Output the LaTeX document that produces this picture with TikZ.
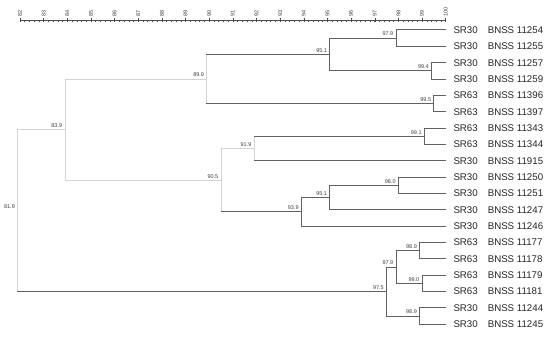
\documentclass[tikz,border=0pt]{standalone}
\usepackage{fontspec}
\setmainfont{Liberation Sans}
\newcommand\joinnode[8]{%
  \coordinate (#1) at ({20+(#2-82)*23.65},#3);
  \draw[#6] (#1 |- #4) -- (#1 |- #5);
  \draw[#7] (#1 |- #4) -- (#4);
  \draw[#8] (#1 |- #5) -- (#5);
  \node[lbl] (#1-v) at ([xshift=-2.6pt,yshift=2.2pt]#1) {#2};
}
\begin{document}
\begin{tikzpicture}[x=1pt,y=-1pt,
  dk/.style={draw=black!62, line width=1pt, line cap=rect},
  lt/.style={draw=black!17, line width=0.8pt, line cap=rect},
  lbl/.style={font=\fontsize{5.5}{6}\selectfont, text=black!75, inner sep=0pt, anchor=base east},
  leaftxt/.style={font=\fontsize{9.7}{11}\selectfont, text=black!85, inner sep=0pt, anchor=west},
  tickline/.style={draw=black!70, line width=0.5pt},
  ticklbl/.style={font=\fontsize{5.5}{6}\selectfont, text=black!75, inner sep=0pt, rotate=90, anchor=west}]
\useasboundingbox (0,0) rectangle (550,337);
\fill[white] (0,0) rectangle (550,337);
% axis
\coordinate (ax0) at (20,20.7);
\coordinate (ax1) at (445.7,20.7);
\draw[tickline] (ax0) -- (ax1);
\foreach \k in {0,...,90}{
  \draw[tickline] ({20+\k*0.2*23.65},20.7) -- ({20+\k*0.2*23.65},22.2);
}
\foreach \v in {82,...,100}{
  \draw[tickline] ({20+(\v-82)*23.65},17.6) -- ({20+(\v-82)*23.65},21.6);
  \node[ticklbl] (ax\v) at ({20+(\v-82)*23.65},16.9) {\v};
}
% leaves
\foreach \i/\g/\n in {1/SR30/11254, 2/SR30/11255, 3/SR30/11257, 4/SR30/11259,
  5/SR63/11396, 6/SR63/11397, 7/SR63/11343, 8/SR63/11344, 9/SR30/11915,
  10/SR30/11250, 11/SR30/11251, 12/SR30/11247, 13/SR30/11246,
  14/SR63/11177, 15/SR63/11178, 16/SR63/11179, 17/SR63/11181,
  18/SR30/11244, 19/SR30/11245}{
  \coordinate (l\i) at (445.7,{30+16.35*(\i-1)});
  \node[leaftxt] (g\i) at (453.3,{30+16.35*(\i-1)}) {\g};
  \node[leaftxt] (n\i) at (487.6,{30+16.35*(\i-1)}) {BNSS \n};
}
% internal nodes
\joinnode{A}{97.9}{38.175}{l1}{l2}{dk}{dk}{dk}
\joinnode{B}{99.4}{70.875}{l3}{l4}{dk}{dk}{dk}
\joinnode{C}{95.1}{54.525}{A}{B}{dk}{dk}{dk}
\joinnode{D}{99.5}{103.575}{l5}{l6}{dk}{dk}{dk}
\joinnode{E}{89.9}{79.05}{C}{D}{lt}{dk}{dk}
\joinnode{F}{99.1}{136.275}{l7}{l8}{dk}{dk}{dk}
\joinnode{G}{91.9}{148.54}{F}{l9}{lt}{dk}{dk}
\joinnode{H}{98.0}{185.325}{l10}{l11}{dk}{dk}{dk}
\joinnode{I}{95.1}{197.59}{H}{l12}{dk}{dk}{dk}
\joinnode{J}{93.9}{211.89}{I}{l13}{dk}{dk}{dk}
\joinnode{K}{90.5}{180.22}{G}{J}{lt}{lt}{dk}
\joinnode{L}{83.9}{129.63}{E}{K}{lt}{lt}{lt}
\joinnode{M}{98.9}{250.725}{l14}{l15}{dk}{dk}{dk}
\joinnode{N}{99.0}{283.425}{l16}{l17}{dk}{dk}{dk}
\joinnode{O}{97.9}{267.075}{M}{N}{dk}{dk}{dk}
\joinnode{P}{98.9}{316.125}{l18}{l19}{dk}{dk}{dk}
\joinnode{Q}{97.5}{291.6}{O}{P}{dk}{dk}{dk}
\joinnode{R}{81.9}{210.6}{L}{Q}{lt}{lt}{dk}
\end{tikzpicture}
\end{document}
